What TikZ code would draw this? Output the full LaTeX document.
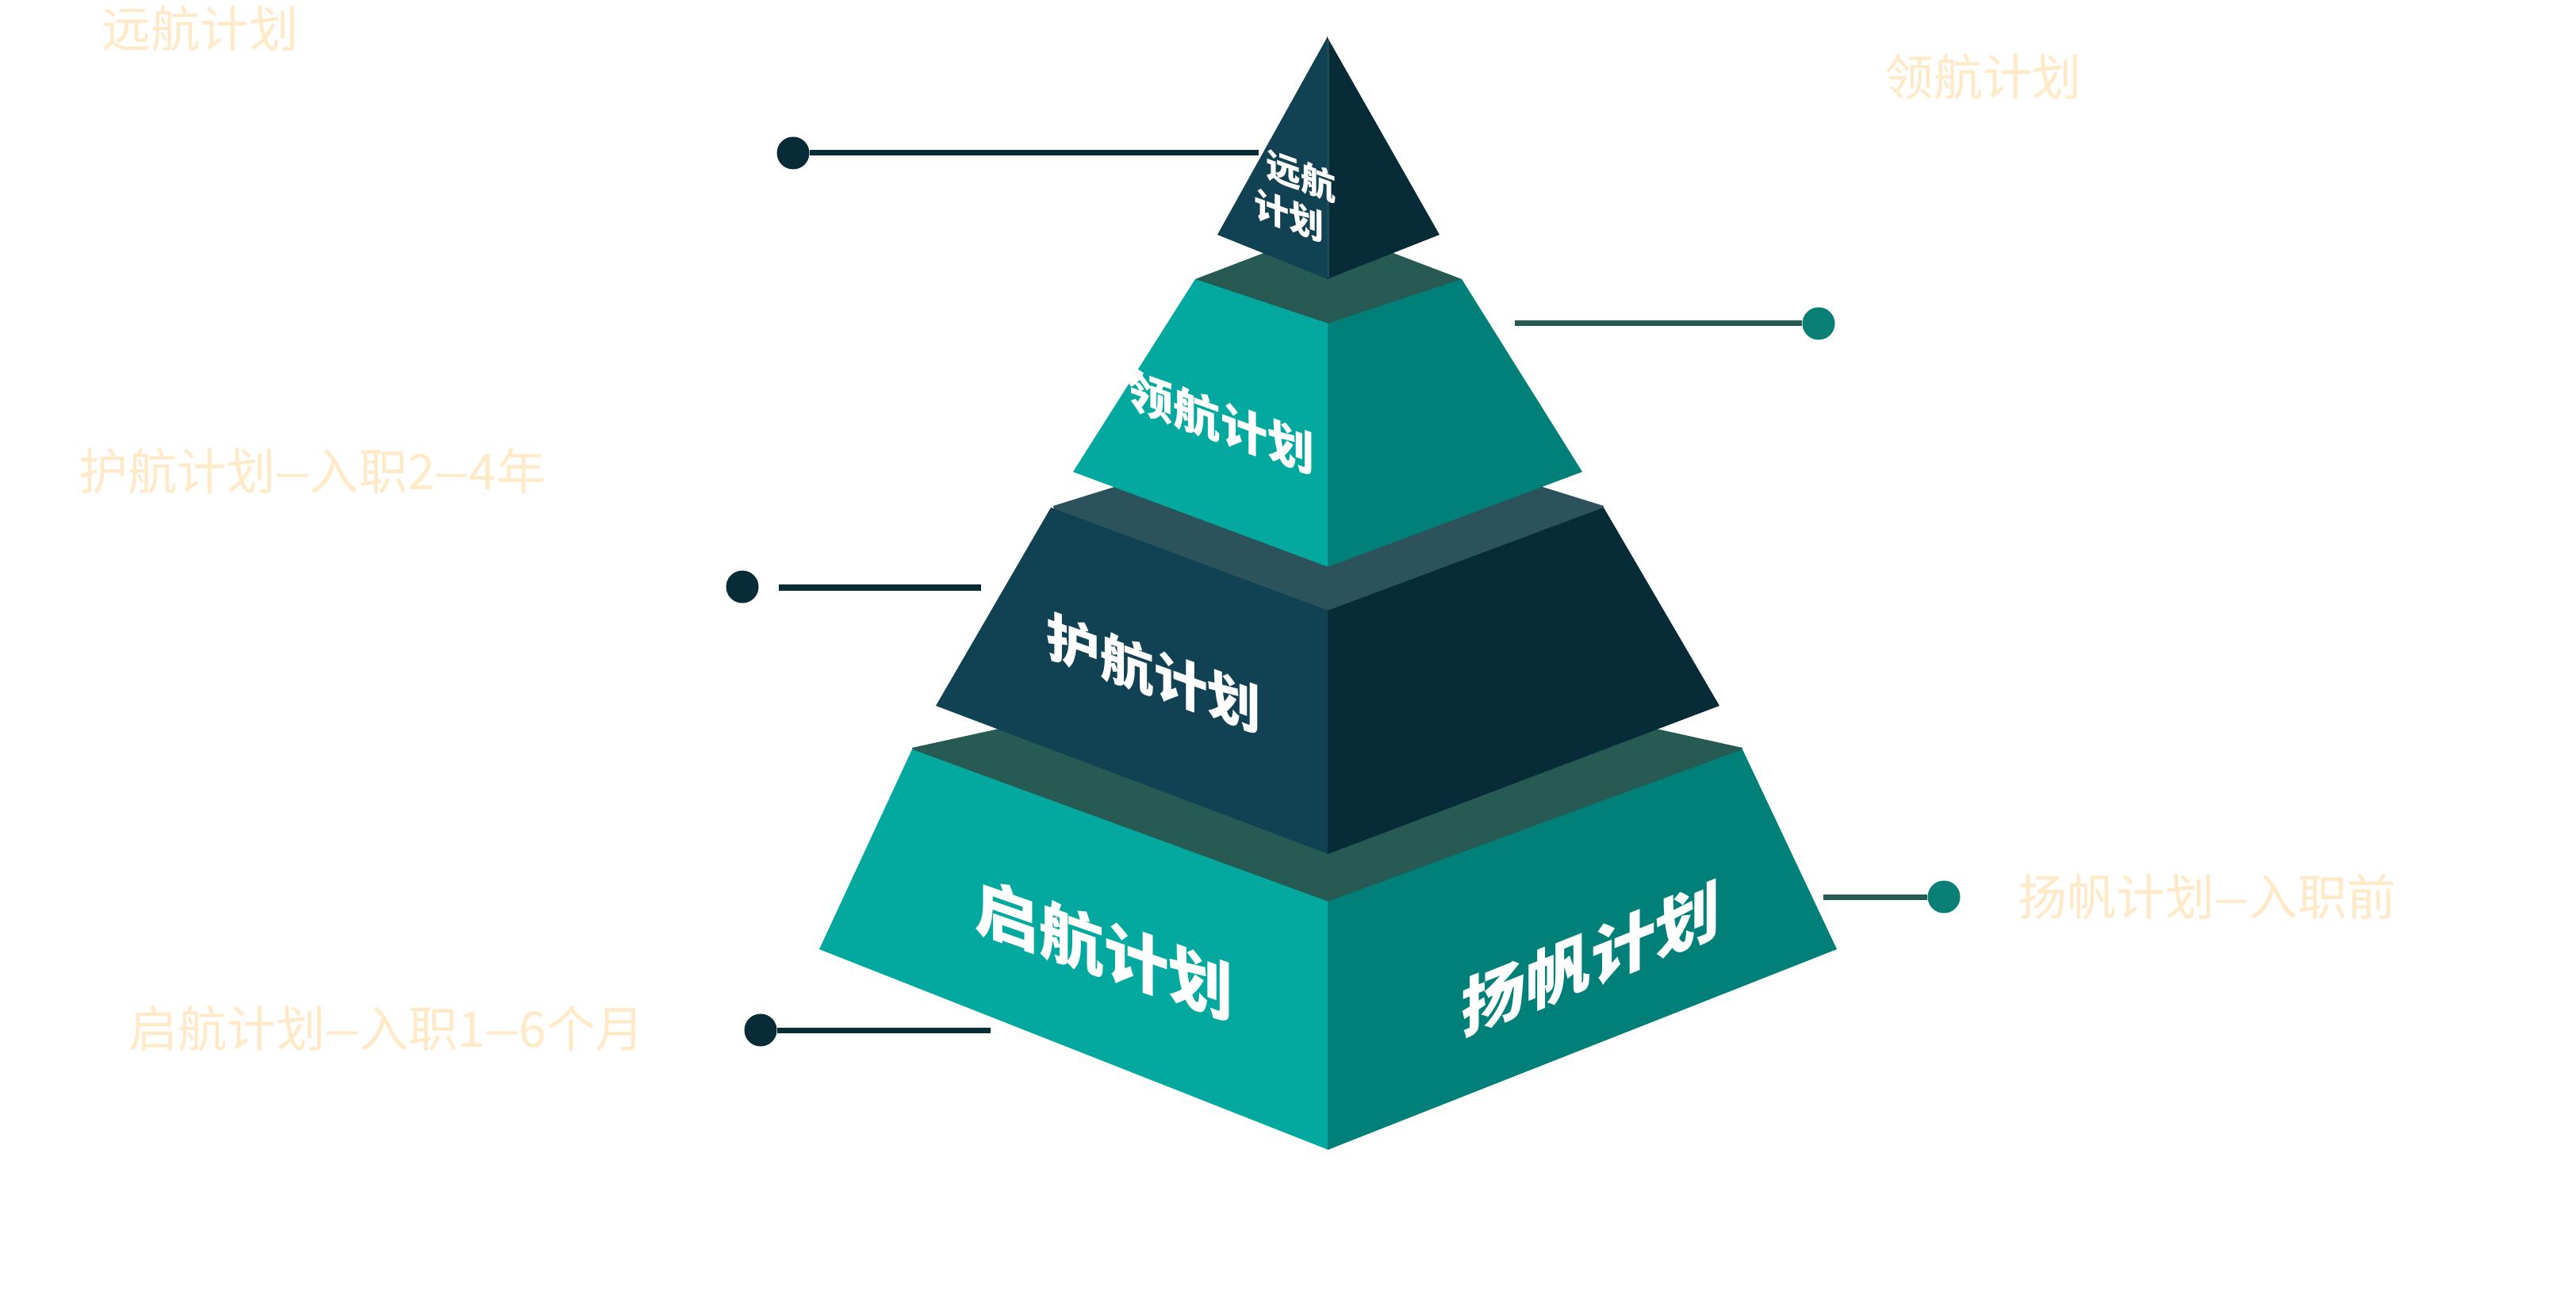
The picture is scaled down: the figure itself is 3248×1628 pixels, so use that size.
\documentclass[tikz,border=0pt]{standalone}
\usepackage{fontspec}
\usepackage{graphicx}
\newfontfamily\cjk{Noto Sans CJK SC}
\newcommand{\dashx}{\scalebox{0.78}[1]{—}}
\definecolor{paleC}{HTML}{FFE9C7}
\definecolor{tealL}{HTML}{03A99E}
\definecolor{tealR}{HTML}{008079}
\definecolor{navyL}{HTML}{104254}
\definecolor{navyR}{HTML}{072C37}
\definecolor{bandG}{HTML}{265A52}
\definecolor{bandS}{HTML}{2C525B}
\definecolor{seam}{HTML}{1E4B57}
\definecolor{dotT}{HTML}{0A7F76}
\begin{document}
\begin{tikzpicture}[x=0.01cm,y=0.01cm,
  pale/.style={text=paleC, font=\cjk\fontsize{17.6}{20}\selectfont, inner sep=0pt, anchor=west},
  facelbl/.style={text=white, font=\cjk\bfseries\fontsize{#1}{#1}\selectfont, inner sep=0pt},
  dot/.style={circle, fill=#1, minimum size=0.41cm, inner sep=0pt},
  conn/.style={draw=#1, line width=0.07cm}]
\useasboundingbox (0,0) rectangle (3248,-1628);

% ---- tier 4 (bottom) ----
\fill[bandG] (1150,-943) -- (1675,-828) -- (2197,-943) -- (2190,-975) -- (1675,-1175) -- (1160,-975) -- cycle;
\fill[tealL] (1150,-945) -- (1675,-1137) -- (1675,-1450) -- (1033,-1197) -- cycle;
\fill[tealR] (1674,-1137) -- (2197,-945) -- (2316,-1197) -- (1674,-1450) -- cycle;

% ---- tier 3 ----
\fill[bandS] (1328,-638) -- (1675,-530) -- (2022,-638) -- (2015,-670) -- (1675,-805) -- (1335,-670) -- cycle;
\fill[navyL] (1325,-640) -- (1675,-770) -- (1675,-1077) -- (1180,-890) -- cycle;
\fill[navyR] (1674,-770) -- (2022,-640) -- (2168,-890) -- (1674,-1077) -- cycle;

% ---- tier 2 ----
\fill[bandG] (1507,-352) -- (1675,-288) -- (1843,-352) -- (1836,-380) -- (1675,-440) -- (1514,-380) -- cycle;
\fill[tealL] (1507,-352) -- (1675,-408) -- (1675,-715) -- (1353,-595) -- cycle;
\fill[tealR] (1674,-408) -- (1843,-352) -- (1995,-595) -- (1674,-715) -- cycle;

% ---- top pyramid ----
\fill[navyL] (1674,-46) -- (1535,-296) -- (1674,-352) -- cycle;
\fill[navyR] (1673,-46) -- (1815,-296) -- (1673,-352) -- cycle;
\draw[seam, line width=0.03cm] (1674,-50) -- (1674,-350);

% ---- face labels ----
\node[facelbl=12.5, yslant=-0.36] (lblA1) at (1640,-222) {远航};
\node[facelbl=12.5, yslant=-0.36] (lblA2) at (1625,-272) {计划};
\node[facelbl=16.8, yslant=-0.36] (lblB) at (1539,-532) {领航计划};
\node[facelbl=19.2, yslant=-0.36] (lblC) at (1455,-849) {护航计划};
\node[facelbl=23.2, yslant=-0.35] (lblD) at (1392,-1197) {启航计划};
\node[facelbl=23.2, yslant=0.40] (lblE) at (2006,-1210) {扬帆计划};

% ---- pale side labels ----
\node[pale] (t1) at (128,-36) {远航计划};
\node[pale] (t2) at (2376,-97) {领航计划};
\node[pale] (t3) at (99,-594) {护航计划\dashx 入职2\dashx 4年};
\node[pale] (t4) at (162,-1297) {启航计划\dashx 入职1\dashx 6个月};
\node[pale] (t5) at (2544,-1131) {扬帆计划\dashx 入职前};

% ---- connectors ----
\node[dot=navyR] (d1) at (1000,-193) {};
\coordinate (e1) at (1587,-193);
\draw[conn=navyR] (d1.east) -- (e1);

\coordinate (s2) at (1910,-408);
\node[dot=dotT] (d2) at (2293,-408) {};
\draw[conn=bandG] (s2) -- (d2.west);

\node[dot=navyR] (d3) at (936,-740) {};
\coordinate (s3) at (982,-741);
\coordinate (e3) at (1237,-741);
\draw[conn=navyR] (s3) -- (e3);

\coordinate (s4) at (2299,-1131);
\node[dot=dotT] (d4) at (2451,-1131) {};
\draw[conn=bandG] (s4) -- (d4.west);

\node[dot=navyR] (d5) at (959,-1299) {};
\coordinate (e5) at (1249,-1299);
\draw[conn=navyR] (d5.east) -- (e5);
\end{tikzpicture}
\end{document}
